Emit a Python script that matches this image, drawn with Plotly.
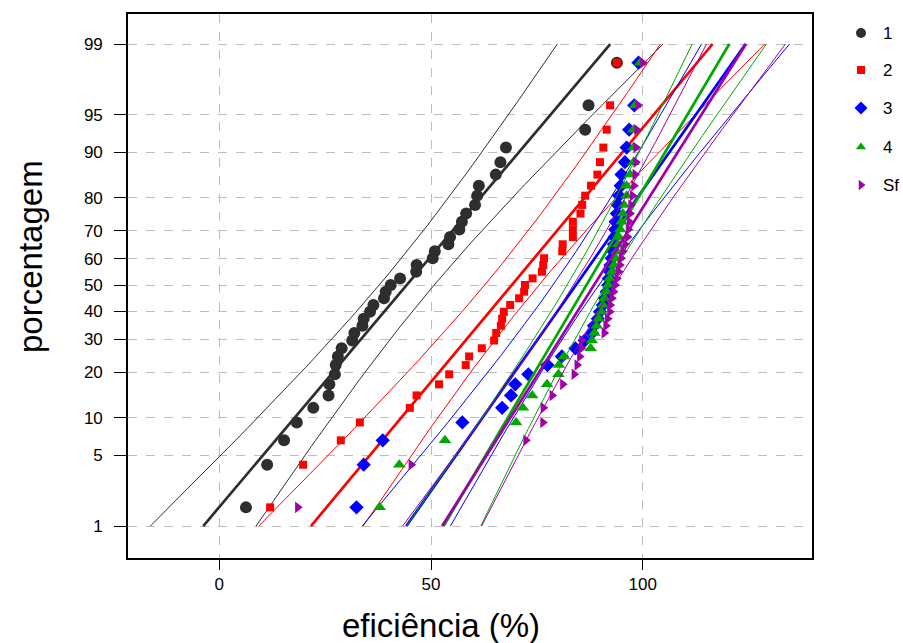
import numpy as np
import plotly.graph_objects as go
from statistics import NormalDist

nd = NormalDist()

# ---- data (eficiência %, sorted samples per group) ----
names = ["1", "2", "3", "4", "Sf"]
s1 = [6.3, 11.3, 15.3, 18.3, 22.2, 25.8, 26.0, 27.3, 27.5, 28.0, 28.9, 31.4, 31.9,
      33.8, 34.1, 35.6, 36.4, 38.9, 39.3, 40.5, 42.7, 46.5, 46.6, 50.4, 50.9, 54.1,
      54.5, 56.7, 57.3, 58.3, 60.4, 60.9, 61.3, 65.3, 66.4, 67.7, 86.4, 87.2, 93.9]
s2 = [12.0, 19.8, 28.7, 33.2, 45.0, 46.6, 51.9, 54.3, 58.2, 59.0, 62.0, 64.9, 65.4,
      66.5, 66.8, 67.2, 68.7, 70.8, 72.0, 72.2, 74.0, 76.2, 76.5, 76.7, 81.0, 81.1,
      83.5, 83.5, 83.5, 85.3, 85.7, 86.4, 87.8, 89.3, 89.9, 90.7, 91.5, 92.3, 93.9]
s3 = [32.4, 34.1, 38.6, 57.4, 66.8, 68.9, 69.9, 73.0, 77.5, 80.9, 84.1, 86.3, 88.0,
      88.5, 89.4, 89.9, 90.6, 91.1, 91.5, 91.9, 92.0, 92.3, 92.4, 92.7, 93.0, 93.2,
      93.4, 93.5, 93.6, 93.9, 94.1, 94.4, 94.8, 95.0, 95.8, 96.2, 96.8, 98.0, 99.0]
s4 = [37.9, 42.5, 53.3, 70.1, 71.7, 73.9, 77.4, 80.1, 80.2, 81.4, 87.7, 88.0, 88.6,
      89.1, 89.6, 90.2, 90.6, 91.0, 91.5, 91.9, 92.2, 92.7, 93.2, 93.6, 93.9, 94.2,
      94.4, 94.7, 95.0, 95.3, 95.6, 96.2, 96.2, 97.0, 97.8, 97.8, 97.8, 98.2, 99.4]
s5 = [18.5, 45.3, 72.4, 76.4, 76.5, 78.6, 81.1, 83.8, 84.5, 85.1, 85.5, 85.6, 90.9,
      91.3, 91.7, 92.2, 92.3, 92.7, 93.1, 93.5, 93.9, 94.3, 94.6, 94.9, 95.3, 95.8,
      96.4, 96.6, 96.8, 97.0, 97.2, 97.6, 97.9, 98.2, 98.4, 98.4, 98.6, 98.9, 100.0]

pct_ticks = [1, 5, 10, 20, 30, 40, 50, 60, 70, 80, 90, 95, 99]
x_ticks = [0, 50, 100]

colors = ["#2e2e2e", "#ff0000", "#0000ff", "#00a800", "#a000a8"]
symbols = ["circle", "square", "diamond", "triangle-up", "triangle-right"]
sizes = [12, 8, 11, 11, 10]
legend_sizes = [10, 8, 10, 9, 9]

W, H = 903, 643
L, R, T, B = 128, 812, 14, 558   # plot box in pixels
plot_w = W - L                   # paper width (right margin 0)

fig = go.Figure()
zlo, zhi = nd.inv_cdf(0.01), nd.inv_cdf(0.99)
zl = np.linspace(zlo, zhi, 80)

data = [s1, s2, s3, s4, s5]
for k, (nm, vals) in enumerate(zip(names, data)):
    v = np.sort(np.array(vals, dtype=float))
    n = len(v)
    pp = [(i - 0.375) / (n + 0.25) for i in range(1, n + 1)]
    zp = [nd.inv_cdf(p) for p in pp]
    mu = v.mean()
    sd = v.std(ddof=1)
    fit = mu + zl * sd
    hw = 1.96 * sd * np.sqrt(1.0 / n + zl ** 2 / (2.0 * n))
    col = colors[k]
    for band in (fit - hw, fit + hw):
        fig.add_trace(go.Scatter(x=band, y=zl, mode="lines", line=dict(color=col, width=1),
                                 showlegend=False, hoverinfo="skip"))
    fig.add_trace(go.Scatter(x=fit, y=zl, mode="lines", line=dict(color=col, width=2.7),
                             showlegend=False, hoverinfo="skip"))
    fig.add_trace(go.Scatter(x=v, y=zp, mode="markers", name=nm, showlegend=False,
                             marker=dict(color=col, symbol=symbols[k], size=sizes[k],
                                         line=dict(width=0))))

# ---- manual legend on an auxiliary pixel-scaled axis ----
leg_x0 = 818
leg_rows = [33, 70, 108, 147, 185]
for k, nm in enumerate(names):
    fig.add_trace(go.Scatter(x=[861], y=[leg_rows[k]], xaxis="x2", yaxis="y2", mode="markers",
                             showlegend=False, hoverinfo="skip",
                             marker=dict(color=colors[k], symbol=symbols[k],
                                         size=legend_sizes[k], line=dict(width=0))))

annotations = []
for k, nm in enumerate(names):
    annotations.append(dict(text=nm, x=881, y=leg_rows[k], xref="x2", yref="y2",
                            xanchor="left", yanchor="middle", showarrow=False,
                            font=dict(size=17)))
annotations.append(dict(text="eficiência (%)", x=(441 - L) / plot_w, y=(B - 625) / (B - T),
                        xref="paper", yref="paper", xanchor="center", yanchor="middle",
                        showarrow=False, font=dict(size=33)))
annotations.append(dict(text="porcentagem", x=(30 - L) / plot_w, y=(B - 256) / (B - T),
                        xref="paper", yref="paper", xanchor="center", yanchor="middle",
                        showarrow=False, textangle=-90, font=dict(size=33)))

fig.update_layout(
    width=W, height=H,
    margin=dict(l=L, r=0, t=T, b=H - B),
    paper_bgcolor="white", plot_bgcolor="white",
    font=dict(family="Liberation Sans, Arial, sans-serif", color="black", size=17),
    showlegend=False,
    annotations=annotations,
    xaxis=dict(domain=[0, (R - L) / plot_w], range=[-21.56, 139.98], tickvals=x_ticks,
               ticktext=[str(t) for t in x_ticks],
               showgrid=True, gridcolor="#bdbdbd", griddash="dash", gridwidth=1,
               zeroline=False, showline=True, linecolor="black", linewidth=1.6, mirror=True,
               ticks="outside", ticklen=10, tickcolor="black"),
    yaxis=dict(range=[-2.635, 2.616],
               tickvals=[nd.inv_cdf(p / 100.0) for p in pct_ticks],
               ticktext=[str(p) for p in pct_ticks],
               showgrid=True, gridcolor="#bdbdbd", griddash="dash", gridwidth=1,
               zeroline=False, showline=True, linecolor="black", linewidth=1.6, mirror=True,
               ticks="outside", ticklen=12, tickcolor="black", ticklabelstandoff=8),
    xaxis2=dict(domain=[(leg_x0 - L) / plot_w, 1.0], range=[leg_x0, W], anchor="y2",
                visible=False, fixedrange=True),
    yaxis2=dict(domain=[0, 1], range=[B, T], anchor="x2", visible=False, fixedrange=True),
)

fig.write_html("out.html")
